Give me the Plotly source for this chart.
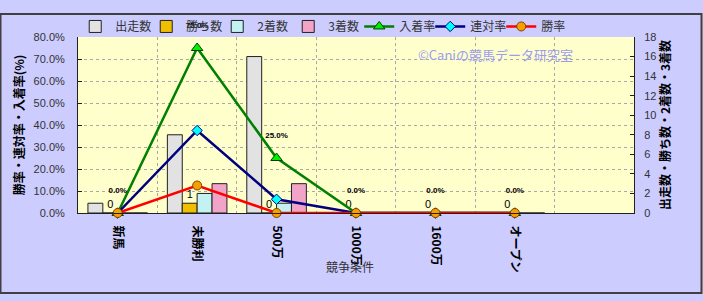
import plotly.graph_objects as go

categories = ["新馬", "未勝利", "500万", "1000万", "1600万", "オープン"]
runs = [1, 8, 16, 0, 0, 0]          # 出走数
wins = [0, 1, 0, 0, 0, 0]           # 勝ち数
seconds = [0, 2, 1, 0, 0, 0]        # 2着数
thirds = [0, 3, 3, 0, 0, 0]         # 3着数
place_rate = [0.0, 75.0, 25.0, 0.0, 0.0, 0.0]   # 入着率
rentai_rate = [0.0, 37.5, 6.25, 0.0, 0.0, 0.0]  # 連対率
win_rate = [0.0, 12.5, 0.0, 0.0, 0.0, 0.0]      # 勝率

W, H = 703, 301
L, R, T, B = 78, 69, 25, 88
PW, PH = W - L - R, H - T - B

FONT = "Liberation Sans, Noto Sans CJK JP, sans-serif"
JFONT = "Noto Sans CJK JP, Liberation Sans, sans-serif"

fig = go.Figure()
edge = dict(color="#202020", width=1)
fig.add_trace(go.Bar(name="出走数", x=categories, y=runs, yaxis="y",
                     marker=dict(color="#e2e2e2", line=edge)))
fig.add_trace(go.Bar(name="勝ち数", x=categories, y=wins, yaxis="y",
                     marker=dict(color="#f0c000", line=edge),
                     text=[str(v) for v in wins], textposition="outside",
                     textfont=dict(size=11, color="black", family=FONT),
                     cliponaxis=False))
fig.add_trace(go.Bar(name="2着数", x=categories, y=seconds, yaxis="y",
                     marker=dict(color="#c4f2f2", line=edge)))
fig.add_trace(go.Bar(name="3着数", x=categories, y=thirds, yaxis="y",
                     marker=dict(color="#f2a4c8", line=edge)))

fig.add_trace(go.Scatter(name="入着率", x=categories, y=place_rate, yaxis="y2",
                         mode="lines+markers+text",
                         line=dict(color="#008000", width=2.5),
                         marker=dict(symbol="triangle-up", size=10, color="#00f000",
                                     line=dict(color="#004000", width=1)),
                         texttemplate="%{y:.1f}%<br> ", textposition="top center",
                         textfont=dict(size=8, color="black", family=FONT, weight="bold"),
                         cliponaxis=False))
fig.add_trace(go.Scatter(name="連対率", x=categories, y=rentai_rate, yaxis="y2",
                         mode="lines+markers",
                         line=dict(color="#000080", width=2.5),
                         marker=dict(symbol="diamond", size=8, color="#00ffff",
                                     line=dict(color="#000080", width=1)),
                         cliponaxis=False))
fig.add_trace(go.Scatter(name="勝率", x=categories, y=win_rate, yaxis="y2",
                         mode="lines+markers",
                         line=dict(color="#ff0000", width=2.5),
                         marker=dict(symbol="circle", size=9, color="#f5a000",
                                     line=dict(color="#804000", width=1)),
                         cliponaxis=False))

grid = dict(gridcolor="#a8a8a8", griddash="dot", gridwidth=1)

fig.update_layout(
    width=W, height=H,
    margin=dict(l=L, r=R, t=T, b=B, pad=0),
    paper_bgcolor="#ccccff",
    plot_bgcolor="#ffffcc",
    font=dict(family=JFONT, size=12, color="#333333"),
    barmode="group", bargap=0.25, bargroupgap=0,
    showlegend=True,
    legend=dict(orientation="h", x=-0.005, xanchor="left", y=1.06, yanchor="middle",
                font=dict(size=12, color="#333333", family=JFONT),
                bgcolor="rgba(0,0,0,0)", traceorder="normal",
                entrywidth=26, entrywidthmode="pixels", itemwidth=30),
    xaxis=dict(type="category", range=[-0.5, 6.5], tickson="boundaries",
               showgrid=True, **grid, tickangle=90, ticklabelstandoff=9,
               tickfont=dict(size=12, color="black", family=JFONT, weight="bold"),
               showline=True, linecolor="#202020", linewidth=1, ticks=""),
    yaxis=dict(side="right", range=[0, 18], dtick=2, showgrid=False, zeroline=False,
               showline=True, linecolor="#202020", linewidth=1,
               ticks="inside", ticklen=4, tickcolor="#202020", ticklabelstandoff=7,
               tickfont=dict(size=11, color="#333333", family=FONT),
               title=dict(text="出走数・勝ち数・2着数・3着数",
                          font=dict(size=12, color="black", family=JFONT, weight="bold"),
                          standoff=4)),
    yaxis2=dict(side="left", overlaying="y", range=[0, 80], dtick=10,
                tickformat=".1f", ticksuffix="%", showgrid=True, **grid, zeroline=False,
                showline=True, linecolor="#202020", linewidth=1,
                ticks="inside", ticklen=4, tickcolor="#202020", ticklabelstandoff=10,
                tickfont=dict(size=11, color="#333333", family=FONT),
                title=dict(text="勝率・連対率・入着率(%)",
                           font=dict(size=12, color="black", family=JFONT, weight="bold"),
                           standoff=6)),
)

fig.add_annotation(text="競争条件", xref="paper", yref="paper",
                   x=(350 - L) / PW, y=(T + PH - 270) / PH, xanchor="center", yanchor="middle",
                   showarrow=False, font=dict(size=12, color="#333333", family=JFONT))

fig.add_annotation(text="©Caniの競馬データ研究室", xref="paper", yref="paper",
                   x=(495 - L) / PW, y=(T + PH - 44) / PH, xanchor="center", yanchor="middle",
                   showarrow=False, font=dict(size=13, color="#9c9cf0", family=JFONT))

fig.add_shape(type="rect", xref="paper", yref="paper",
              x0=(0.5 - L) / PW, x1=(701.5 - L) / PW,
              y0=(T + PH - 298.5) / PH, y1=(T + PH - 0.5) / PH,
              line=dict(color="#404040", width=2), fillcolor="rgba(0,0,0,0)", layer="above")

fig.write_html("out.html")
